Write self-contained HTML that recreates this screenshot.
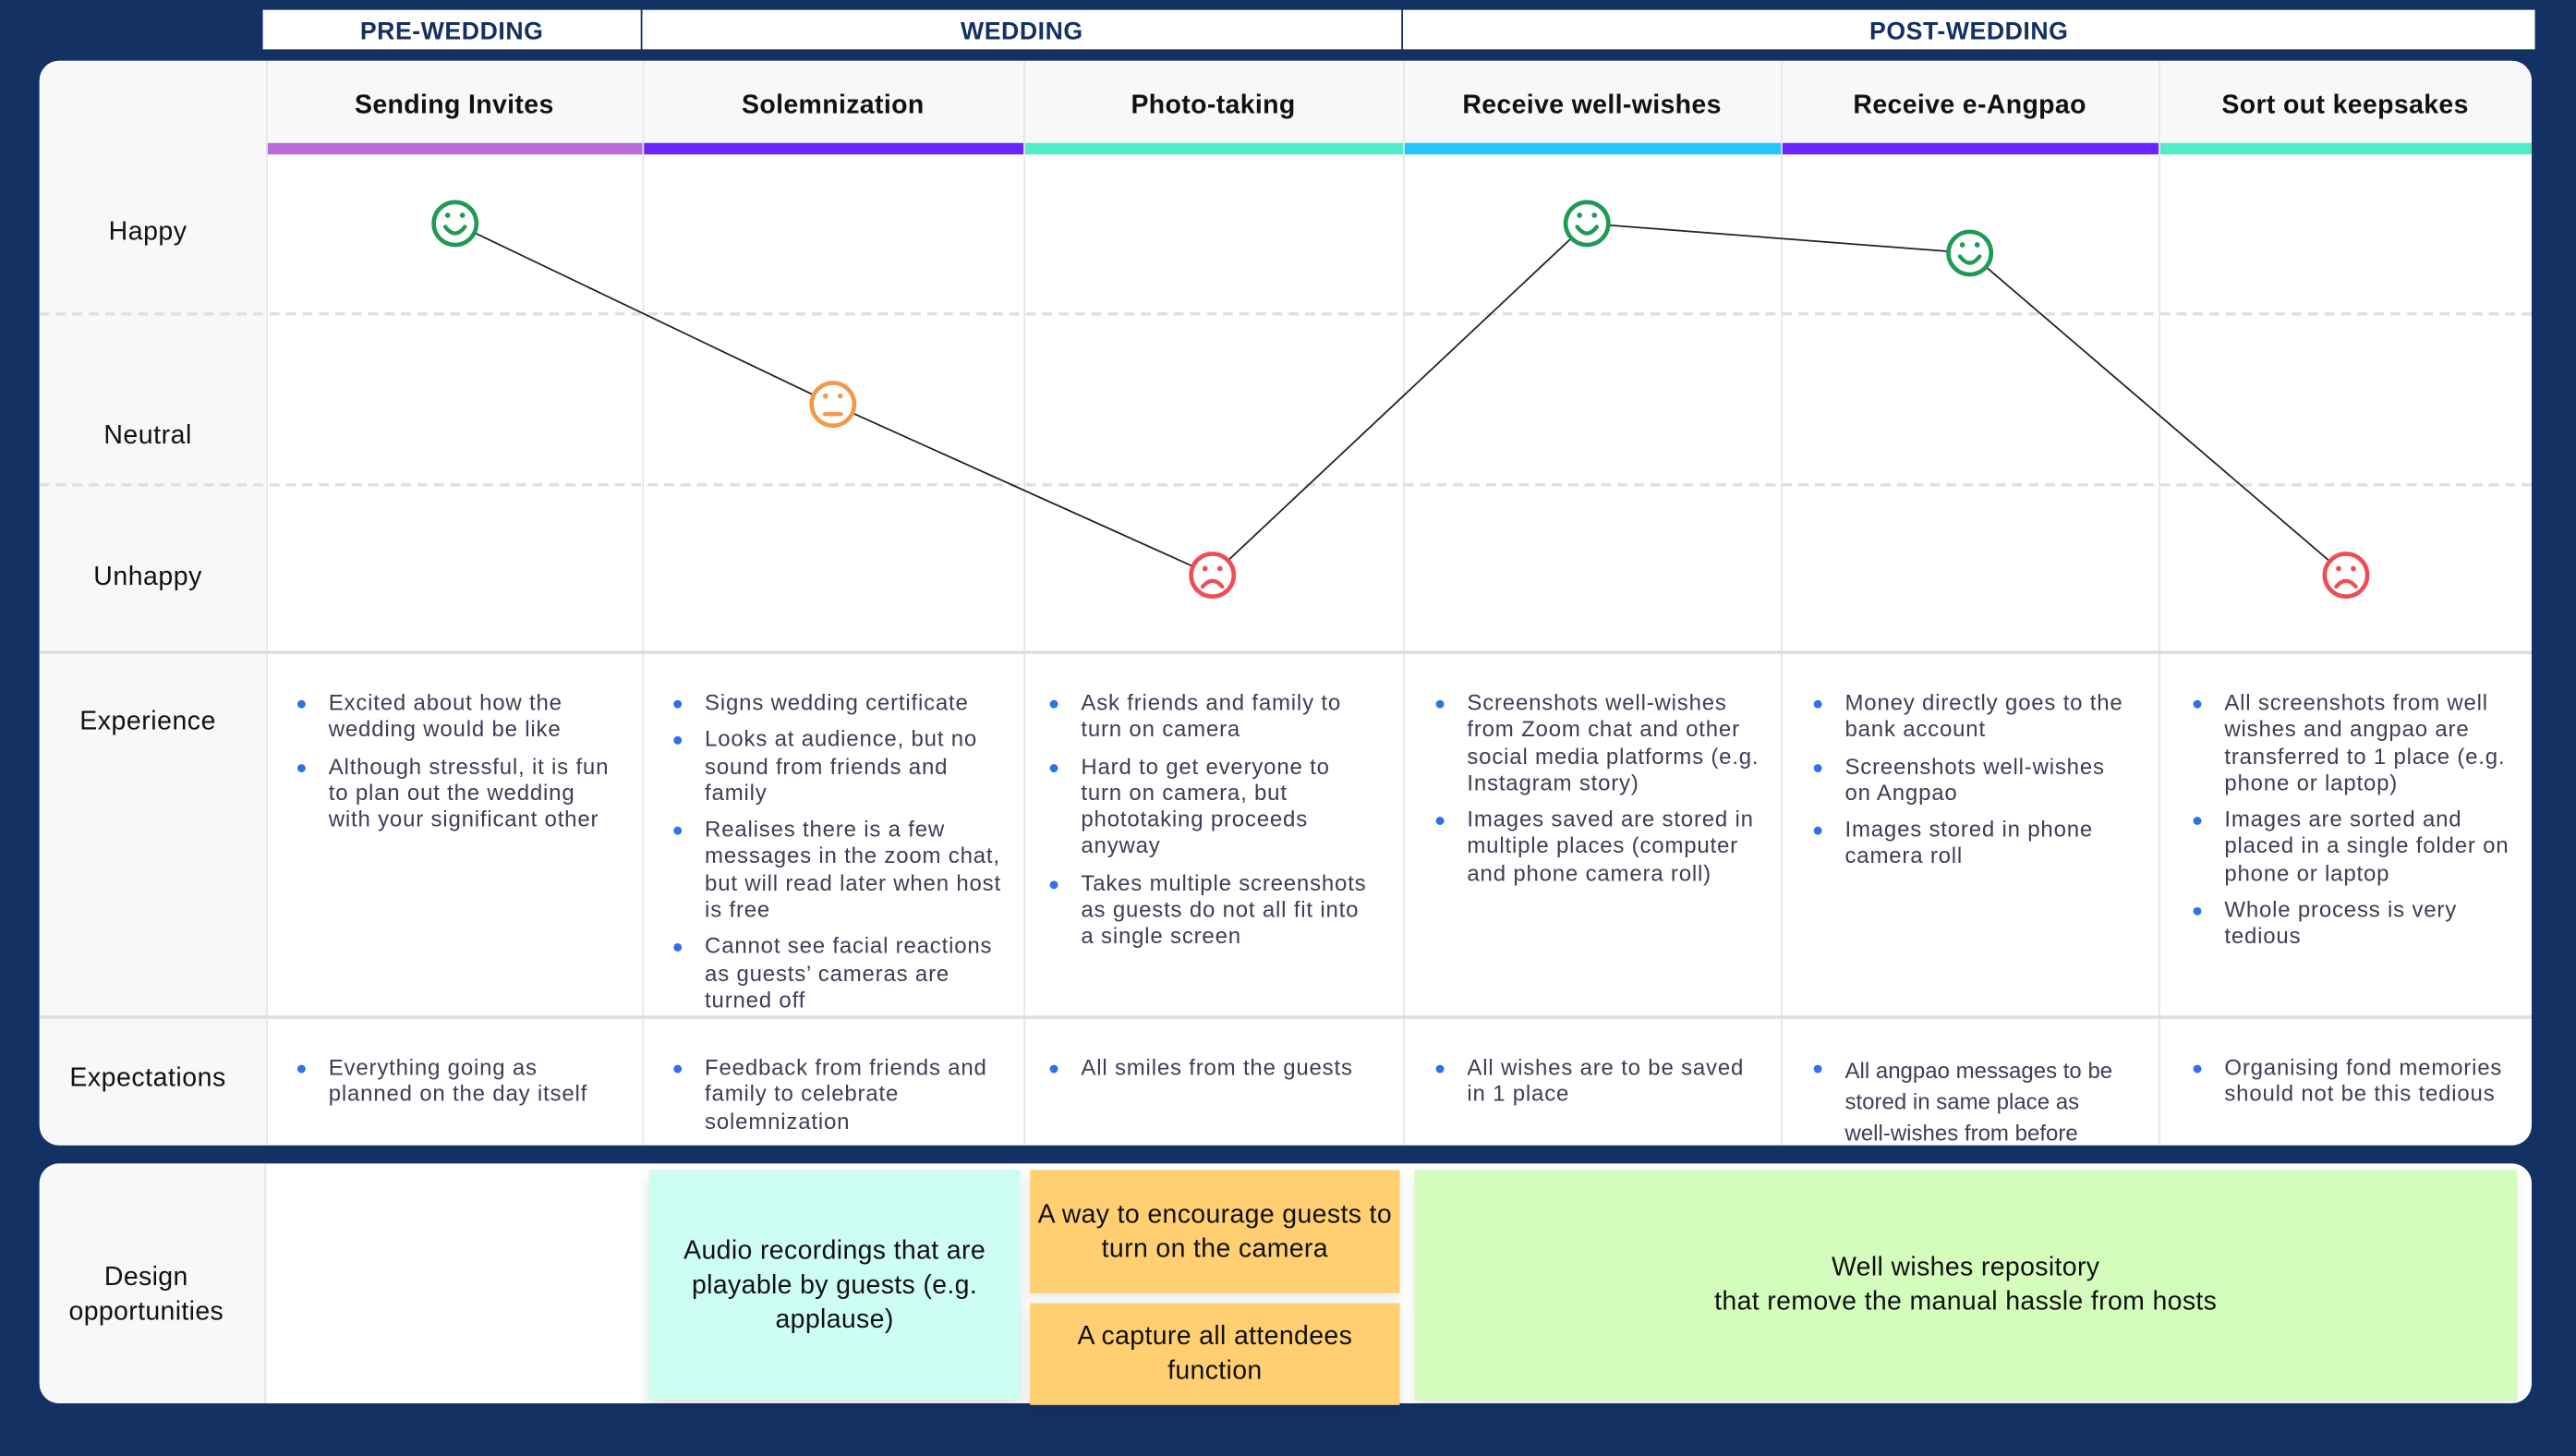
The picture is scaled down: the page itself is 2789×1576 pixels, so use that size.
<!DOCTYPE html>
<html><head><meta charset="utf-8"><style>
*{margin:0;padding:0;box-sizing:border-box}
html,body{width:2789px;height:1575px;overflow:hidden;background:#143164}
#w{position:absolute;left:0;top:0;width:1568px;height:886px;transform:scale(1.77870);transform-origin:0 0;font-family:"Liberation Sans",sans-serif}
.a{position:absolute}
.ph{background:#fff;color:#143164;font-weight:bold;font-size:15px;text-align:center;line-height:28px;top:6px;height:24px;letter-spacing:0.3px}
.card{background:#fff;border-radius:12px;overflow:hidden}
.lbl{font-size:16px;color:#111;text-align:center;width:132px;left:0;letter-spacing:0.3px}
.tt{font-size:16px;font-weight:bold;color:#111;text-align:center;top:0;height:50px;line-height:56px;letter-spacing:0.2px}
.vl{width:1px;background:#e6e6e6}
ul{position:absolute;list-style:none;font-size:13.5px;color:#3c3f55;line-height:16.3px;letter-spacing:0.45px}
li{position:relative;padding-left:0;margin-bottom:6px}
li:before{content:"";position:absolute;left:-19px;top:6px;width:5px;height:5px;border-radius:50%;background:#2f72e6}
.st{display:flex;align-items:center;justify-content:center;text-align:center;font-size:16px;color:#111;line-height:21px;letter-spacing:0.2px}
</style></head><body><div id="w">
<div class="a ph" style="left:160px;width:230px">PRE-WEDDING</div>
<div class="a ph" style="left:391px;width:462px">WEDDING</div>
<div class="a ph" style="left:854px;width:689px">POST-WEDDING</div>

<div class="a card" style="left:24px;top:37px;width:1517px;height:660px">
 <div class="a" style="left:0;top:0;width:138px;height:660px;background:#f8f8f8"></div>
 <div class="a" style="left:138px;top:0;width:1379px;height:50px;background:#f8f8f8"></div>
 <div class="a" style="left:138px;top:50px;width:229px;height:7px;background:#bc6cd8"></div>
 <div class="a" style="left:367px;top:50px;width:232px;height:7px;background:#6a26ff"></div>
 <div class="a" style="left:599px;top:50px;width:231px;height:7px;background:#52ecc6"></div>
 <div class="a" style="left:830px;top:50px;width:230px;height:7px;background:#22c6ff"></div>
 <div class="a" style="left:1060px;top:50px;width:230px;height:7px;background:#6a26ff"></div>
 <div class="a" style="left:1290px;top:50px;width:227px;height:7px;background:#52ecc6"></div>
 <div class="a vl" style="left:138px;top:0;height:660px"></div>
 <div class="a vl" style="left:367px;top:0;height:660px"></div>
 <div class="a vl" style="left:599px;top:0;height:660px"></div>
 <div class="a vl" style="left:830px;top:0;height:660px"></div>
 <div class="a vl" style="left:1060px;top:0;height:660px"></div>
 <div class="a vl" style="left:1290px;top:0;height:660px"></div>
 <div class="a" style="left:0;top:153px;width:1517px;border-top:2px dashed #e0e0e0"></div>
 <div class="a" style="left:0;top:257px;width:1517px;border-top:2px dashed #e0e0e0"></div>
 <div class="a" style="left:0;top:359px;width:1517px;height:2px;background:#dedede"></div>
 <div class="a" style="left:0;top:581px;width:1517px;height:2px;background:#dedede"></div>
 <div class="a tt" style="left:138px;width:229px">Sending Invites</div>
 <div class="a tt" style="left:367px;width:232px">Solemnization</div>
 <div class="a tt" style="left:599px;width:231px">Photo-taking</div>
 <div class="a tt" style="left:830px;width:230px">Receive well-wishes</div>
 <div class="a tt" style="left:1060px;width:230px">Receive e-Angpao</div>
 <div class="a tt" style="left:1290px;width:227px">Sort out keepsakes</div>
 <div class="a lbl" style="top:96px">Happy</div>
 <div class="a lbl" style="top:220px">Neutral</div>
 <div class="a lbl" style="top:306px">Unhappy</div>
 <div class="a lbl" style="top:394px">Experience</div>
 <div class="a lbl" style="top:611px">Expectations</div>
 <ul style="left:176px;top:383px;width:174px"><li>Excited about how the wedding would be like</li><li>Although stressful, it is fun to plan out the wedding with your significant other</li></ul>
 <ul style="left:405px;top:383px;width:182px"><li>Signs wedding certificate</li><li>Looks at audience, but no sound from friends and family</li><li>Realises there is a few messages in the zoom chat, but will read later when host is free</li><li>Cannot see facial reactions as guests’ cameras are turned off</li></ul>
 <ul style="left:634px;top:383px;width:178px"><li>Ask friends and family to turn on camera</li><li>Hard to get everyone to turn on camera, but phototaking proceeds anyway</li><li>Takes multiple screenshots as guests do not all fit into a single screen</li></ul>
 <ul style="left:869px;top:383px;width:180px"><li>Screenshots well-wishes from Zoom chat and other social media platforms (e.g. Instagram story)</li><li>Images saved are stored in multiple places (computer and phone camera roll)</li></ul>
 <ul style="left:1099px;top:383px;width:176px"><li>Money directly goes to the bank account</li><li>Screenshots well-wishes on Angpao</li><li>Images stored in phone camera roll</li></ul>
 <ul style="left:1330px;top:383px;width:180px"><li>All screenshots from well wishes and angpao are transferred to 1 place (e.g. phone or laptop)</li><li>Images are sorted and placed in a single folder on phone or laptop</li><li>Whole process is very tedious</li></ul>
 <ul style="left:176px;top:605px;width:174px"><li>Everything going as planned on the day itself</li></ul>
 <ul style="left:405px;top:605px;width:182px"><li>Feedback from friends and family to celebrate solemnization</li></ul>
 <ul style="left:634px;top:605px;width:178px"><li>All smiles from the guests</li></ul>
 <ul style="left:869px;top:605px;width:180px"><li>All wishes are to be saved in 1 place</li></ul>
 <ul style="left:1099px;top:605px;width:172px;line-height:19px;letter-spacing:0"><li>All angpao messages to be stored in same place as well-wishes from before</li></ul>
 <ul style="left:1330px;top:605px;width:180px"><li>Organising fond memories should not be this tedious</li></ul>
</div>

<svg class="a" style="left:0;top:0" width="1568" height="886" viewBox="0 0 1568 886">
 <polyline points="277,136 507,246 738,350 966,136 1199,154 1428,350" fill="none" stroke="#222" stroke-width="1"/>
 <g fill="#fff" stroke-width="2.6">
  <circle cx="277" cy="136" r="13" stroke="#1f9a55"/>
  <circle cx="966" cy="136" r="13" stroke="#1f9a55"/>
  <circle cx="1199" cy="154" r="13" stroke="#1f9a55"/>
  <circle cx="507" cy="246" r="13" stroke="#f29a4a"/>
  <circle cx="738" cy="350" r="13" stroke="#ee4d55"/>
  <circle cx="1428" cy="350" r="13" stroke="#ee4d55"/>
 </g>
 <g fill="none" stroke-width="2.4" stroke-linecap="round">
  <path d="M271,138 q6,8 12,0" stroke="#1f9a55"/><path d="M960,138 q6,8 12,0" stroke="#1f9a55"/><path d="M1193,156 q6,8 12,0" stroke="#1f9a55"/>
  <path d="M502,252 h10" stroke="#f29a4a"/>
  <path d="M732,357 q6,-7 12,0" stroke="#ee4d55"/><path d="M1422,357 q6,-7 12,0" stroke="#ee4d55"/>
 </g>
 <g>
  <circle cx="272.5" cy="131" r="1.6" fill="#1f9a55"/><circle cx="281.5" cy="131" r="1.6" fill="#1f9a55"/>
  <circle cx="961.5" cy="131" r="1.6" fill="#1f9a55"/><circle cx="970.5" cy="131" r="1.6" fill="#1f9a55"/>
  <circle cx="1194.5" cy="149" r="1.6" fill="#1f9a55"/><circle cx="1203.5" cy="149" r="1.6" fill="#1f9a55"/>
  <circle cx="502.5" cy="241" r="1.6" fill="#f29a4a"/><circle cx="511.5" cy="241" r="1.6" fill="#f29a4a"/>
  <circle cx="733.5" cy="346" r="1.6" fill="#ee4d55"/><circle cx="742.5" cy="346" r="1.6" fill="#ee4d55"/>
  <circle cx="1423.5" cy="346" r="1.6" fill="#ee4d55"/><circle cx="1432.5" cy="346" r="1.6" fill="#ee4d55"/>
 </g>
</svg>

<div class="a card" style="left:24px;top:708px;width:1517px;height:146px">
 <div class="a" style="left:0;top:0;width:138px;height:146px;background:#f8f8f8;border-right:1px solid #e6e6e6"></div>
 <div class="a lbl st" style="top:7px;height:146px;width:130px">Design<br>opportunities</div>
</div>
<div class="a st" style="left:395px;top:712px;width:226px;height:140px;background:#cefdf4;box-shadow:0 4px 8px rgba(0,0,0,.12)">Audio recordings that are<br>playable by guests (e.g.<br>applause)</div>
<div class="a st" style="left:627px;top:712px;width:225px;height:75px;background:#ffcf72;box-shadow:0 3px 6px rgba(0,0,0,.1)">A way to encourage guests to<br>turn on the camera</div>
<div class="a st" style="left:627px;top:793px;width:225px;height:62px;background:#ffcf72;box-shadow:0 4px 8px rgba(0,0,0,.12)">A capture all attendees<br>function</div>
<div class="a st" style="left:861px;top:712px;width:671px;height:140px;background:#d4fdbd;box-shadow:0 3px 6px rgba(0,0,0,.1)">Well wishes repository<br>that remove the manual hassle from hosts</div>
</div></body></html>
